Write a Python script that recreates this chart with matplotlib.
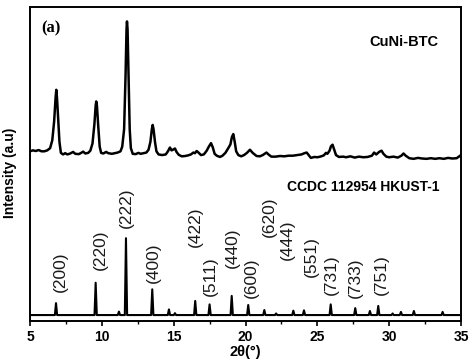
import numpy as np
import matplotlib.pyplot as plt

plt.rcParams['font.family'] = ['Liberation Sans', 'DejaVu Sans']

exp_2theta = [5.0, 5.2, 5.4, 5.6, 5.8, 6.0, 6.2, 6.4, 6.55, 6.68, 6.78, 6.83, 6.88, 6.97, 7.05, 7.15,
              7.3, 7.45, 7.6, 7.8, 8.0, 8.15, 8.4, 8.6, 8.7, 8.85, 9.05, 9.2, 9.35, 9.48, 9.57, 9.61,
              9.66, 9.75, 9.85, 9.95, 10.1, 10.3, 10.45, 10.7, 10.9, 11.1, 11.3, 11.42, 11.55, 11.65,
              11.72, 11.75, 11.79, 11.86, 11.94, 12.02, 12.15, 12.35, 12.55, 12.7, 12.9, 13.1, 13.25,
              13.38, 13.48, 13.54, 13.6, 13.7, 13.8, 13.95, 14.2, 14.45, 14.6, 14.74, 14.85, 14.95,
              15.09, 15.2, 15.35, 15.56, 15.8, 16.0, 16.2, 16.37, 16.48, 16.6, 16.75, 16.9, 17.1, 17.3,
              17.45, 17.6, 17.72, 17.85, 18.0, 18.22, 18.4, 18.6, 18.8, 18.95, 19.05, 19.15, 19.25,
              19.35, 19.5, 19.7, 19.9, 20.1, 20.31, 20.5, 20.77, 21.0, 21.2, 21.46, 21.6, 21.8, 22.1,
              22.4, 22.7, 23.0, 23.3, 23.6, 23.9, 24.1, 24.26, 24.4, 24.55, 24.8, 25.0, 25.2, 25.45,
              25.6, 25.7, 25.85, 25.95, 26.06, 26.18, 26.3, 26.5, 26.8, 27.0, 27.3, 27.6, 27.9, 28.2,
              28.5, 28.8, 28.95, 29.1, 29.3, 29.47, 29.6, 29.8, 30.0, 30.3, 30.6, 30.85, 31.0, 31.15,
              31.4, 31.7, 32.0, 32.3, 32.6, 32.9, 33.2, 33.5, 33.8, 34.1, 34.4, 34.7, 34.85, 35.0]
exp_int = [54.0, 54.3, 54.1, 54.4, 54.0, 54.0, 54.3, 55.0, 57.5, 63.5, 71.0, 73.6, 71.0, 63.5, 57.0, 53.5,
           53.0, 53.4, 53.0, 53.3, 53.8, 53.2, 53.1, 53.6, 53.9, 53.3, 53.5, 54.2, 56.5, 62.5, 68.5, 69.9,
           68.5, 62.0, 55.5, 53.5, 53.3, 53.8, 53.4, 53.2, 53.4, 53.6, 54.0, 55.5, 61.0, 78.0,
           93.0, 95.4, 93.0, 78.0, 61.0, 55.0, 53.2, 53.1, 53.5, 53.2, 53.4, 53.6, 54.5,
           57.0, 61.0, 62.4, 61.0, 57.0, 54.0, 53.0, 52.8, 53.0, 54.0, 55.2, 54.3, 54.5,
           54.9, 53.8, 52.9, 52.4, 52.5, 52.7, 53.0, 53.6, 53.4, 54.1, 53.5, 52.8, 53.0, 54.2,
           55.5, 56.6, 55.3, 53.2, 52.6, 52.2, 52.6, 53.5, 55.0, 56.2, 58.5, 59.5, 57.0,
           54.0, 52.8, 52.4, 52.8, 53.5, 54.5, 53.5, 52.5, 52.4, 52.8, 53.6, 53.0, 52.3, 52.3,
           52.5, 52.4, 52.6, 52.6, 52.8, 53.0, 53.4, 53.6, 52.8, 51.9, 52.2, 52.1, 52.3, 52.7,
           53.5, 53.2, 54.2, 55.6, 56.1, 54.5, 52.8, 52.2, 52.3, 52.1, 52.4, 52.0, 52.3, 52.1,
           52.2, 52.6, 53.6, 53.0, 53.8, 54.2, 53.2, 52.3, 52.1, 52.3, 52.0, 52.6, 53.3, 52.6,
           51.8, 51.6, 51.9, 51.7, 51.6, 51.8, 51.6, 51.8, 51.6, 51.9, 51.7, 51.8, 52.3, 52.8]

# --- simulated HKUST-1 (CCDC 112954) peaks ---
sim_base = 1.8
sim_pos = [6.81, 9.57, 11.19, 11.68, 13.51, 14.67, 15.09, 16.5, 17.5, 19.04, 20.19, 21.31, 22.13,
           23.33, 24.07, 25.93, 27.64, 28.66, 29.24, 30.24, 30.82, 31.72, 33.72]
sim_height = [5.6, 12.1, 2.9, 26.3, 10.0, 3.6, 2.4, 6.3, 5.2, 7.9, 5.0, 3.4, 2.3,
              3.2, 3.3, 5.2, 4.0, 3.1, 4.7, 2.3, 2.8, 3.1, 2.8]

# --- hkl labels: text, 2theta position, bottom of label ---
hkl_labels = ['(200)', '(220)', '(222)', '(400)', '(422)', '(511)', '(440)', '(600)',
              '(620)', '(444)', '(551)', '(731)', '(733)', '(751)']
hkl_x = [7.09, 9.87, 11.73, 13.56, 16.48, 17.53, 19.1, 20.43, 21.66, 22.9, 24.6, 26.0, 27.62, 29.47]
hkl_y = [9.2, 16.2, 29.6, 12.1, 23.6, 7.9, 16.9, 7.1, 26.8, 19.4, 14.0, 8.2, 7.1, 8.2]

# build the stick-like simulated trace
hw = 0.08
sx, sy = [5.0], [sim_base]
for p, h in zip(sim_pos, sim_height):
    sx += [p - hw, p, p + hw]
    sy += [sim_base, h, sim_base]
sx.append(35.0)
sy.append(sim_base)

fig = plt.figure(figsize=(4.74, 3.6), dpi=100)
ax = fig.add_axes([30 / 474, 39.3 / 360, 431 / 474, 313.7 / 360])

ax.plot(exp_2theta, exp_int, color='black', lw=1.8, solid_joinstyle='round')
ax.plot(sx, sy, color='black', lw=1.5, solid_joinstyle='round')

for lab, x, y in zip(hkl_labels, hkl_x, hkl_y):
    ax.text(x, y, lab, rotation=90, ha='center', va='bottom', fontsize=12.5, color='#1a1a1a')

ax.text(0.947, 0.888, 'CuNi-BTC', transform=ax.transAxes, ha='right', va='center',
        fontsize=10.5, fontweight='bold')
ax.text(0.951, 0.426, 'CCDC 112954 HKUST-1', transform=ax.transAxes, ha='right', va='center',
        fontsize=10, fontweight='bold')
ax.text(0.026, 0.933, '(a)', transform=ax.transAxes, ha='left', va='center',
        fontsize=12, fontweight='bold', family='Liberation Serif')

ax.set_xlim(5, 35)
ax.set_ylim(0, 100)
ax.set_xticks([5, 10, 15, 20, 25, 30, 35])
ax.set_xticks(np.arange(7.5, 35, 5), minor=True)
ax.set_yticks([])
ax.tick_params(axis='x', which='major', direction='out', length=3.5, width=1.2,
               labelsize=10, pad=3.5)
ax.tick_params(axis='x', which='minor', direction='out', length=2, width=1.0)
for lbl in ax.get_xticklabels():
    lbl.set_fontweight('bold')
for s in ax.spines.values():
    s.set_linewidth(1.4)

ax.set_xlabel('2θ(°)', fontsize=10.5, fontweight='bold', labelpad=0.5)
ax.set_ylabel('Intensity (a.u)', fontsize=10, fontweight='bold')
ax.yaxis.set_label_coords(-0.03, 0.471)

fig.savefig('out.png', dpi=100)
